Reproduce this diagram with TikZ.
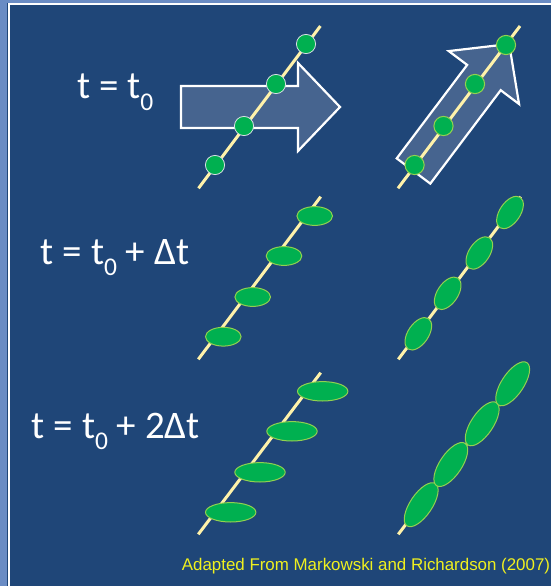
\documentclass[tikz,border=0pt]{standalone}
\usepackage{fontspec}
\setmainfont{Carlito}
\newfontfamily\creditfont{Liberation Sans}
\definecolor{bgblue}{RGB}{31,70,120}
\definecolor{stripblue}{RGB}{106,140,196}
\definecolor{arrowfill}{RGB}{70,100,143}
\definecolor{lineyellow}{RGB}{255,242,170}
\definecolor{parcelgreen}{RGB}{0,176,80}
\definecolor{rimgreen}{RGB}{146,208,80}
\definecolor{rimgray}{RGB}{215,222,228}
\definecolor{credityellow}{RGB}{240,240,30}
\newcommand\subz{\raisebox{-11pt}{\fontsize{25.5}{26}\selectfont 0}}
\begin{document}
\begin{tikzpicture}[x=1pt,y=-1pt,
  flowarrow/.style={fill=arrowfill, draw=white, line width=2.2pt, line join=miter},
  axisline/.style={draw=lineyellow, line width=3pt},
  parcelA/.style={fill=parcelgreen, draw=rimgray, line width=0.8pt},
  parcelB/.style={fill=parcelgreen, draw=rimgreen, line width=1pt},
  timelabel/.style={text=white, font=\fontsize{39}{41}\selectfont, anchor=base west, inner sep=0pt},
  credit/.style={text=credityellow, font=\creditfont\fontsize{16.9}{19}\selectfont, anchor=base west, inner sep=0pt}]
\useasboundingbox (0,0) rectangle (551,586);
% frame
\fill[bgblue] (0,0) rectangle (551,586);
\fill[stripblue] (0,0) rectangle (7.3,586);
\fill[stripblue] (0,0) rectangle (551,2.7);
\draw[white, line width=2.3pt] (8.7,586) -- (8.7,3.9) -- (551,3.9);

% labels
\node[timelabel] (t1) at (77,99) {t = t\subz};
\node[timelabel] (t2) at (40.7,264.3) {t = t\subz{} + Δt};
\node[timelabel] (t3) at (31.7,438.3) {t = t\subz{} + 2Δt};
\node[credit] (src) at (181.7,570.7) {Adapted From Markowski and Richardson (2007)};

% row 1 left: horizontal arrow
\begin{scope}[shift={(181,107)}]
  \draw[flowarrow] (0,-21) -- (117,-21) -- (117,-44) -- (159,0) -- (117,44) -- (117,21) -- (0,21) -- cycle;
\end{scope}
\draw[axisline] (198.5,188.3) -- (320.4,26);
\foreach \p in {(215,165),(244,126),(276,84),(306,44)}
  \draw[parcelA] \p circle [radius=9.6];

% row 1 right: tilted arrow
\begin{scope}[shift={(413.5,171)}, rotate=53]
  \draw[flowarrow] (0,-21) -- (117,-21) -- (117,-44) -- (159,0) -- (117,44) -- (117,21) -- (0,21) -- cycle;
\end{scope}
\draw[axisline] (398,188.3) -- (520,26);
\foreach \p in {(414.6,165),(443.5,126),(475,84),(506,45)}
  \draw[parcelB] \p circle [radius=9.6];

% row 2 left
\draw[axisline] (198.3,359.3) -- (320.7,196.7);
\foreach \p in {(223.3,336.7),(252.7,297),(284,256),(314.7,216)}
  \draw[parcelB] \p ellipse [x radius=17.8, y radius=9.4];

% row 2 right
\draw[axisline] (398.3,359.3) -- (520.7,196.7);
\foreach \x/\y in {418.3/333.8,447.7/293.3,479.3/253,510/212.5}
  \draw[parcelB, rotate around={56:(\x,\y)}] (\x,\y) ellipse [x radius=18.3pt, y radius=10.3pt];

% row 3 left
\draw[axisline] (198.3,534.3) -- (320.7,372.7);
\foreach \p in {(230.7,512.3),(260,472.3),(292,431.3),(322.7,391.3)}
  \draw[parcelB] \p ellipse [x radius=25.2, y radius=9.7];

% row 3 right
\draw[axisline] (398.3,534.3) -- (520.7,372.7);
\foreach \x/\y in {421.2/504.7,450.8/464.5,482.2/423.8,512.7/383.8}
  \draw[parcelB, rotate around={56:(\x,\y)}] (\x,\y) ellipse [x radius=25.5pt, y radius=11pt];
\end{tikzpicture}
\end{document}
